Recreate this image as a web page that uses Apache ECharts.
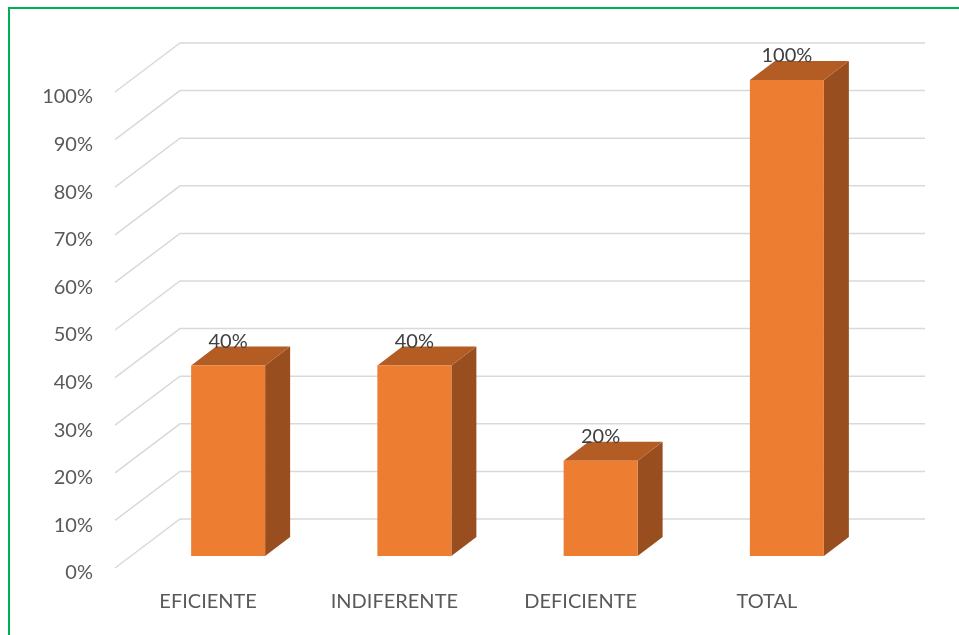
<!DOCTYPE html>
<html>
<head>
<meta charset="utf-8">
<script src="https://cdn.jsdelivr.net/npm/echarts@6/dist/echarts.min.js"></script>
<style>
  html, body { margin: 0; padding: 0; background: #fff; }
  #frame {
    position: absolute; left: 8px; top: 7px;
    width: 1000px; height: 700px;
    border: 2px solid #00B050;
  }
  #main { position: absolute; left: 0; top: 0; width: 959px; height: 635px; }
</style>
</head>
<body>
<div id="frame"></div>
<div id="main"></div>
<script>
// datos
var categorias = ['EFICIENTE', 'INDIFERENTE', 'DEFICIENTE', 'TOTAL'];
var valores = [40, 40, 20, 100];
var ticks = [0, 10, 20, 30, 40, 50, 60, 70, 80, 90, 100];

// perspectiva (pared del fondo y caras de las barras)
var FONDO_DX = 65, FONDO_DY = -49;
var BARRA_DX = 20, BARRA_DY = -12, BARRA_W = 74;
var LADO_DX = 25, LADO_DY = -19;

var myChart = echarts.init(document.getElementById('main'));

var option = {
    backgroundColor: 'transparent',
    animation: false,
    grid: { left: 115, right: 99, top: 92, bottom: 67 },
    xAxis: {
        type: 'category',
        data: categorias,
        axisLine: { show: false },
        axisTick: { show: false },
        splitLine: { show: false },
        axisLabel: {
            color: '#595959',
            fontFamily: 'Lato',
            fontSize: 20,
            margin: 24
        }
    },
    yAxis: {
        type: 'value',
        min: 0,
        max: 100,
        interval: 10,
        axisLine: { show: false },
        axisTick: { show: false },
        splitLine: { show: false },
        axisLabel: {
            color: '#595959',
            fontFamily: 'Lato',
            fontSize: 20,
            margin: 22,
            verticalAlign: 'top',
            lineHeight: 10,
            formatter: '{value}%'
        }
    },
    series: [
        {
            // lineas de la cuadricula en 3D
            type: 'custom',
            z: 1,
            silent: true,
            data: ticks.map(function (t) { return [0, t]; }),
            renderItem: function (params, api) {
                var cs = params.coordSys;
                var y = api.coord([0, api.value(1)])[1];
                return {
                    type: 'polyline',
                    shape: {
                        points: [
                            [cs.x, y],
                            [cs.x + FONDO_DX, y + FONDO_DY],
                            [cs.x + cs.width + FONDO_DX, y + FONDO_DY]
                        ]
                    },
                    style: { stroke: '#D9D9D9', lineWidth: 1.5, fill: null }
                };
            }
        },
        {
            // barras 3D
            type: 'custom',
            z: 3,
            data: valores.map(function (v, i) { return [i, v]; }),
            renderItem: function (params, api) {
                var top = api.coord([api.value(0), api.value(1)]);
                var base = api.coord([api.value(0), 0]);
                var cx = top[0] + BARRA_DX;
                var x0 = cx - BARRA_W / 2, x1 = cx + BARRA_W / 2;
                var y0 = top[1] + BARRA_DY, y1 = base[1] + BARRA_DY;
                return {
                    type: 'group',
                    children: [
                        {
                            type: 'polygon',
                            shape: { points: [[x1, y0], [x1 + LADO_DX, y0 + LADO_DY], [x1 + LADO_DX, y1 + LADO_DY], [x1, y1]] },
                            style: { fill: '#984E1E' }
                        },
                        {
                            type: 'polygon',
                            shape: { points: [[x0, y0], [x0 + LADO_DX, y0 + LADO_DY], [x1 + LADO_DX, y0 + LADO_DY], [x1, y0]] },
                            style: { fill: '#B35C23' }
                        },
                        {
                            type: 'rect',
                            shape: { x: x0, y: y0, width: BARRA_W, height: y1 - y0 },
                            style: { fill: '#ED7D31' }
                        },
                        {
                            type: 'text',
                            z2: 10,
                            style: {
                                text: api.value(1) + '%',
                                x: cx,
                                y: y0 - 24,
                                align: 'center',
                                verticalAlign: 'middle',
                                fill: '#404040',
                                font: '20px Lato'
                            }
                        }
                    ]
                };
            }
        }
    ]
};

myChart.setOption(option);
</script>
</body>
</html>
